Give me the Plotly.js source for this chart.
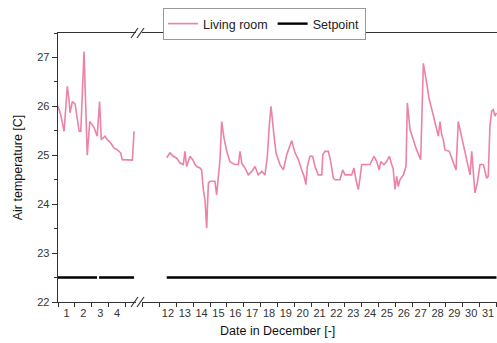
<!DOCTYPE html>
<html>
<head>
<meta charset="utf-8">
<script src="https://cdn.plot.ly/plotly-3.0.1.min.js"></script>
<style>
  html, body { margin: 0; padding: 0; background: #fff; }
  #chart { width: 497px; height: 343px; }
</style>
</head>
<body>
<div id="chart"></div>
<script>
// Living room air temperature, first days of December (day of month + fraction of day)
const leftDays = [1.00, 1.16, 1.36, 1.55, 1.65, 1.71, 1.85, 2.01, 2.25, 2.35, 2.54, 2.73, 2.88, 3.13,
  3.32, 3.46, 3.56, 3.78, 3.92, 4.12, 4.31, 4.51, 4.71, 4.80, 5.40, 5.50];
const leftTemp = [26.00, 25.83, 25.49, 26.41, 26.14, 25.87, 26.10, 26.05, 25.49, 25.49, 27.12, 25.00, 25.69, 25.57,
  25.39, 26.10, 25.32, 25.39, 25.32, 25.25, 25.15, 25.11, 25.05, 24.91, 24.90, 25.49];

// Living room air temperature, second half of December
const rightDays = [12.43, 12.62, 12.82, 13.02, 13.22, 13.41, 13.51, 13.61, 13.81, 13.97, 14.11, 14.21, 14.40, 14.50,
  14.60, 14.70, 14.80, 14.90, 15.00, 15.29, 15.39, 15.49, 15.59, 15.69, 15.83, 15.99, 16.18, 16.48,
  16.68, 16.78, 16.88, 17.07, 17.27, 17.47, 17.67, 17.86, 18.07, 18.26, 18.40, 18.52, 18.62, 18.76,
  18.91, 19.15, 19.35, 19.55, 19.74, 19.85, 20.04, 20.24, 20.44, 20.58, 20.69, 20.77, 20.93, 21.09,
  21.23, 21.42, 21.63, 21.69, 21.82, 22.02, 22.16, 22.32, 22.42, 22.71, 22.87, 23.01, 23.41, 23.54,
  23.66, 23.80, 23.90, 24.00, 24.49, 24.65, 24.73, 24.89, 25.04, 25.13, 25.32, 25.48, 25.64, 25.78,
  25.86, 25.98, 26.08, 26.17, 26.27, 26.47, 26.63, 26.71, 26.87, 27.06, 27.26, 27.50, 27.66, 27.82,
  28.01, 28.21, 28.45, 28.55, 28.65, 28.75, 28.84, 28.94, 29.20, 29.44, 29.60, 29.73, 29.88, 30.03,
  30.23, 30.43, 30.53, 30.62, 30.72, 30.86, 31.02, 31.22, 31.42, 31.51, 31.61, 31.71, 31.81, 31.91, 32.00];
const rightTemp = [24.95, 25.05, 24.98, 24.94, 24.84, 24.81, 25.08, 24.77, 24.98, 24.91, 24.81, 24.77, 24.74, 24.70,
  24.30, 24.09, 23.51, 24.43, 24.47, 24.47, 24.19, 24.50, 24.91, 25.69, 25.35, 25.08, 24.87, 24.81,
  24.81, 25.08, 24.84, 24.74, 24.60, 24.67, 24.77, 24.60, 24.67, 24.60, 24.98, 25.63, 26.00, 25.52,
  25.05, 24.81, 24.70, 25.01, 25.22, 25.30, 25.05, 24.91, 24.70, 24.57, 24.40, 24.77, 24.98, 24.98,
  24.77, 24.60, 24.60, 25.01, 25.08, 25.08, 24.87, 24.53, 24.50, 24.50, 24.70, 24.60, 24.60, 24.74,
  24.50, 24.30, 24.53, 24.81, 24.81, 24.91, 24.98, 24.87, 24.70, 24.87, 24.81, 24.87, 24.98, 24.81,
  24.74, 24.30, 24.57, 24.36, 24.50, 24.60, 24.77, 26.07, 25.52, 25.32, 25.11, 24.91, 26.88, 26.55,
  26.14, 25.87, 25.52, 25.39, 25.69, 25.42, 25.32, 25.11, 25.08, 24.84, 24.70, 25.69, 25.46, 25.18,
  24.91, 24.60, 25.08, 24.57, 24.23, 24.43, 24.81, 24.81, 24.53, 24.57, 25.59, 25.90, 25.93, 25.80, 25.87];

// Heating setpoint and the periods it covers (null = no record)
const setpointValue = 22.5;
const setpointLeftDays = [1.00, 3.31, null, 3.43, 5.50];
const setpointRightDays = [12.43, 32.00];

// Day labels, placed in the middle of each day
const leftDayLabels = [1, 2, 3, 4];
const rightDayLabels = [12, 13, 14, 15, 16, 17, 18, 19, 20, 21, 22, 23, 24, 25, 26, 27, 28, 29, 30, 31];

const pink = '#ec82a6';
const axisColor = '#333333';
const fontFamily = 'Liberation Sans, Arial, sans-serif';

const traces = [
  { x: leftDays, y: leftTemp, xaxis: 'x', yaxis: 'y', mode: 'lines', name: 'Living room',
    legendgroup: 'lr', line: { color: pink, width: 1.6 } },
  { x: setpointLeftDays, y: setpointLeftDays.map(d => d === null ? null : setpointValue),
    xaxis: 'x', yaxis: 'y', mode: 'lines', name: 'Setpoint', legendgroup: 'sp',
    line: { color: '#000', width: 2.4 } },
  { x: rightDays, y: rightTemp, xaxis: 'x2', yaxis: 'y', mode: 'lines', name: 'Living room',
    legendgroup: 'lr', showlegend: false, line: { color: pink, width: 1.6 } },
  { x: setpointRightDays, y: setpointRightDays.map(() => setpointValue),
    xaxis: 'x2', yaxis: 'y', mode: 'lines', name: 'Setpoint', legendgroup: 'sp',
    showlegend: false, line: { color: '#000', width: 2.4 } }
];

const W = 497, H = 343, ml = 58, mr = 0, mt = 33, mb = 41;
const plotW = W - ml - mr, plotH = H - mt - mb;
const px = v => (v - ml) / plotW;      // horizontal pixel -> paper
const py = v => (H - mb - v) / plotH;  // vertical pixel -> paper

const dayAxis = (domain, range, labels) => ({
  domain: domain, range: range, anchor: 'y',
  tickmode: 'array', tickvals: labels.map(d => d + 0.5), ticktext: labels.map(String),
  ticks: '', showgrid: false, zeroline: false,
  showline: true, mirror: true, linecolor: axisColor, linewidth: 1.3,
  tickfont: { family: fontFamily, size: 11, color: '#333' },
  minor: { tickmode: 'linear', tick0: 0, dtick: 1, ticks: 'outside', ticklen: 4, tickwidth: 1, tickcolor: axisColor },
  fixedrange: true
});

// Axis break marks "//" on the bottom and top axis lines
const breakMarks = [];
[H - mb, mt].forEach(yc => {
  [[131, 138], [137, 144]].forEach(([x0, x1]) => {
    breakMarks.push({ type: 'line', xref: 'paper', yref: 'paper',
      x0: px(x0), y0: py(yc + 5), x1: px(x1), y1: py(yc - 5),
      line: { color: axisColor, width: 1.2 } });
  });
});

const layout = {
  width: W, height: H,
  margin: { l: ml, r: mr, t: mt, b: mb, pad: 0 },
  paper_bgcolor: '#fff', plot_bgcolor: '#fff',
  font: { family: fontFamily, color: '#222' },
  showlegend: true,
  legend: {
    orientation: 'h', x: px(163), y: py(8), xanchor: 'left', yanchor: 'top',
    bordercolor: '#999', borderwidth: 1, bgcolor: '#fff',
    font: { family: fontFamily, size: 12.5, color: '#222' },
    itemwidth: 30, tracegroupgap: 0
  },
  xaxis: dayAxis([0, px(136)], [1, 5.615], leftDayLabels),
  xaxis2: dayAxis([px(142), 1], [10.961, 32.03], rightDayLabels),
  yaxis: {
    range: [22, 27.5], tickmode: 'linear', tick0: 22, dtick: 1,
    ticks: 'outside', ticklen: 5, tickwidth: 1, tickcolor: axisColor,
    minor: { dtick: 0.5, ticks: 'outside', ticklen: 3, tickwidth: 1, tickcolor: axisColor },
    showgrid: false, zeroline: false, showline: true, linecolor: axisColor, linewidth: 1.3,
    tickfont: { family: fontFamily, size: 11, color: '#333' },
    title: { text: 'Air temperature [C]', standoff: 12, font: { family: fontFamily, size: 12.5, color: '#111' } },
    fixedrange: true
  },
  shapes: breakMarks,
  annotations: [{
    text: 'Date in December [-]', xref: 'paper', yref: 'paper', x: 0.5, y: py(331),
    xanchor: 'center', yanchor: 'middle', showarrow: false,
    font: { family: fontFamily, size: 12.5, color: '#111' }
  }]
};

Plotly.newPlot('chart', traces, layout, { displayModeBar: false, staticPlot: true });
</script>
</body>
</html>
